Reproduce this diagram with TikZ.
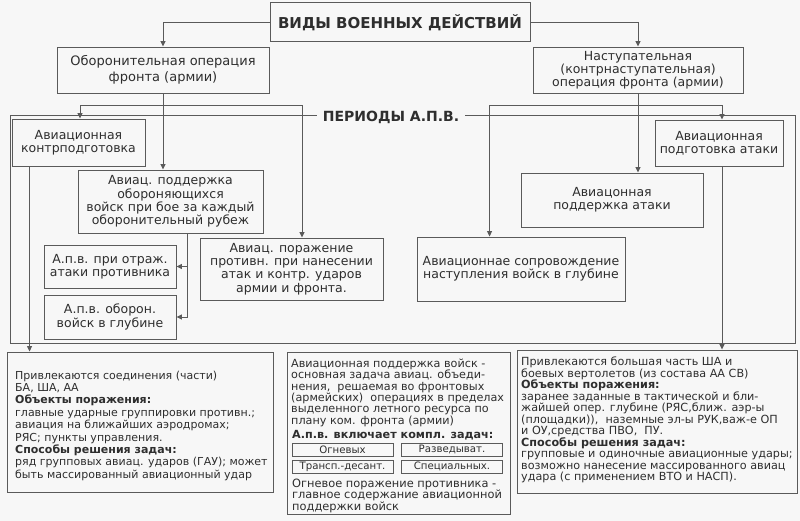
\documentclass[tikz,border=0pt]{standalone}
\usepackage{fontspec}
\setmainfont{DejaVu Sans}
\usetikzlibrary{arrows.meta,calc}
\definecolor{lc}{HTML}{5A5A5A}
\definecolor{tc}{HTML}{2E2E2E}
\definecolor{bg}{HTML}{F7F7F7}
\begin{document}
\begin{tikzpicture}[x=1pt,y=-1pt,
  line/.style={draw=lc, line width=0.9pt},
  arr/.style={line, -{Triangle[length=5.5pt,width=5pt]}},
  box/.style={draw=lc, line width=0.9pt, align=center, text=tc, inner sep=0pt,
    font=\fontsize{12.5}{13.2}\selectfont},
  panel/.style={draw=lc, line width=0.9pt, inner sep=0pt},
  ptext/.style={align=left, text=tc, inner sep=0pt, anchor=north west,
    font=\fontsize{11}{12.4}\selectfont},
  small/.style={draw=lc, line width=0.8pt, inner sep=0pt, text=tc,
    minimum width=101, minimum height=13, font=\fontsize{10.2}{11}\selectfont},
]
\path[fill=bg] (0,0) rectangle (800,521);

% top
\node[box, line width=1pt, minimum width=260, minimum height=39,
  font=\fontsize{15}{16}\selectfont\bfseries] (title) at (400,22.5) {ВИДЫ ВОЕННЫХ ДЕЙСТВИЙ};
\node[box, minimum width=212, minimum height=46,
  font=\fontsize{13}{16.5}\selectfont] (defop) at (163,70) {Оборонительная операция\\фронта (армии)};
\node[box, minimum width=210, minimum height=46] (offop) at (638,70)
  {Наступательная\\(контрнаступательная)\\операция фронта (армии)};

\draw[arr] (title.west) -| (defop.north);
\draw[arr] (title.east) -| (offop.north);

% periods frame
\coordinate (fNW) at (10,115);
\coordinate (fSE) at (795,343);
\node[text=tc, inner xsep=6pt, inner ysep=0pt,
  font=\fontsize{14}{15}\selectfont\bfseries] (periods) at (391,117.5) {ПЕРИОДЫ А.П.В.};
\draw[line] (periods.west |- fNW) -- (fNW) |- (fSE) |- (periods.east |- fNW);

% left side boxes
\node[box, minimum width=133, minimum height=47] (kontr) at (78.5,142.5) {Авиационная\\контрподготовка};
\node[box, minimum width=185, minimum height=63] (podd) at (170.5,201.5)
  {Авиац. поддержка\\обороняющихся\\войск при бое за каждый\\оборонительный рубеж};
\node[box, minimum width=132, minimum height=43] (otraz) at (110,266.5) {А.п.в. при отраж.\\атаки противника};
\node[box, minimum width=132, minimum height=44] (oboron) at (110,317) {А.п.в. оборон.\\войск в глубине};
\node[box, minimum width=183, minimum height=62] (porazh) at (291.5,269)
  {Авиац. поражение\\противн. при нанесении\\атак и контр. ударов\\армии и фронта.};

% right side boxes
\node[box, minimum width=128, minimum height=46] (podgot) at (719,143) {Авиационная\\подготовка атаки};
\node[box, minimum width=182, minimum height=54] (podatt) at (612,200) {Авиацонная\\поддержка атаки};
\node[box, minimum width=208, minimum height=64] (sopr) at (521,269)
  {Авиационнае сопровождение\\наступления войск в глубине};

% buses
\coordinate (lbus) at ($(defop.south)+(0,12)$);
\coordinate (rbus) at ($(offop.south)+(0,12)$);
\draw[arr] (defop.south) -- (defop.south |- podd.north);
\draw[arr] (lbus) -| ($(kontr.north)+(1.5,0)$);
\draw[arr] (lbus) -| ($(porazh.north)+(10.5,0)$);
\draw[arr] (offop.south) -- (offop.south |- podatt.north);
\draw[arr] (rbus) -| ($(podgot.north)+(3,0)$);
\draw[arr] (rbus) -| ($(sopr.north west)+(73,0)$);

\coordinate (pds) at ($(podd.south west)+(110,0)$);
\draw[arr] (pds) |- (otraz.east);
\draw[arr] (pds) |- (oboron.east);

% bottom panels
\node[panel, minimum width=266, minimum height=140] (panelL) at (140,422) {};
\node[panel, minimum width=223, minimum height=162] (panelM) at (398.5,433) {};
\node[panel, minimum width=280, minimum height=143] (panelR) at (657,421.5) {};

\coordinate (ks) at ($(kontr.south west)+(18,0)$);
\draw[arr] (ks) -- (ks |- panelL.north);
\coordinate (pgs) at ($(podgot.south)+(3,0)$);
\draw[arr] (pgs) -- (pgs |- panelR.north);

\node[ptext] (tL) at (15,370.5) {Привлекаются соединения (части)\\БА, ША, АА\\
\textbf{Объекты поражения:}\\главные ударные группировки противн.;\\
авиация на ближайших аэродромах;\\РЯС; пункты управления.\\
\textbf{Способы решения задач:}\\ряд групповых авиац. ударов (ГАУ); может\\
быть массированный авиационный удар};

\node[ptext, font=\fontsize{11.2}{11.4}\selectfont] (tM1) at (291,358.5) {Авиационная поддержка войск -\\
основная задача авиац. объеди-\\нения,\ \ решаемая во фронтовых\\
(армейских)\ \ операциях в пределах\\выделенного летного ресурса по\\
плану ком. фронта (армии)};
\node[ptext, font=\fontsize{11.2}{12}\selectfont\bfseries] (tM2) at (292,430.5) {А.п.в. включает компл. задач:};
\node[small] (b1) at (342.5,449.5) {Огневых};
\node[small] (b2) at (452,449.5) {Разведыват.};
\node[small] (b3) at (342.5,466.5) {Трансп.-десант.};
\node[small] (b4) at (452,466.5) {Специальных.};
\node[ptext, font=\fontsize{11.4}{11.2}\selectfont] (tM3) at (292,479) {Огневое поражение противника -\\
главное содержание авиационной\\поддержки войск};

\node[ptext, font=\fontsize{11.2}{11.5}\selectfont] (tR) at (521,357) {Привлекаются большая часть ША и\\
боевых вертолетов (из состава АА СВ)\\\textbf{Объекты поражения:}\\
заранее заданные в тактической и бли-\\жайшей опер. глубине (РЯС,ближ. аэр-ы\\
(площадки)),\ \ наземные эл-ы РУК,важ-е ОП\\и ОУ,средства ПВО,\ \ ПУ.\\
\textbf{Способы решения задач:}\\групповые и одиночные авиационные удары;\\
возможно нанесение\ массированного авиац\\удара (с применением ВТО и НАСП).};
\end{tikzpicture}
\end{document}
